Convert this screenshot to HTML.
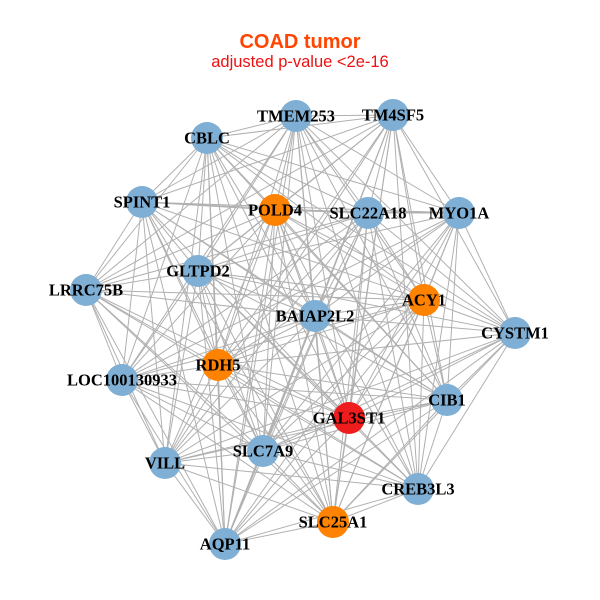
<!DOCTYPE html>
<html><head><meta charset="utf-8"><style>
html,body{margin:0;padding:0;background:#fff;}
svg{display:block}
.l{font-family:"Liberation Serif",serif;font-weight:bold;font-size:16.5px;fill:#000;text-anchor:middle;dominant-baseline:central}
</style></head><body>
<svg id="s" width="600" height="600" viewBox="0 0 600 600">
<text x="300" y="48" text-anchor="middle" font-family="Liberation Sans,sans-serif" font-weight="bold" font-size="20" fill="#FF4500">COAD tumor</text>
<text x="300" y="67" text-anchor="middle" font-family="Liberation Sans,sans-serif" font-size="16.5" fill="#EE1111">adjusted p-value &lt;2e-16</text>
<g id="e" stroke="#b0b0b0" stroke-width="1"></g>
<g id="n"></g>
</svg>
<script>
var N=[["TMEM253",296,116,"b"],["TM4SF5",393,115,"b"],["CBLC",207,138,"b"],["SPINT1",142,202,"b"],["POLD4",275,210,"o"],["SLC22A18",368,213,"b"],["MYO1A",459,213,"b"],["GLTPD2",198,271,"b"],["LRRC75B",86,290,"b"],["ACY1",424,300,"o"],["BAIAP2L2",315,316,"b"],["CYSTM1",515,333,"b"],["RDH5",218,365,"o"],["LOC100130933",122,380,"b"],["CIB1",447,400,"b"],["GAL3ST1",349,418,"r"],["SLC7A9",263,451,"b"],["VILL",165,463,"b"],["CREB3L3",418,489,"b"],["SLC25A1",333,522,"o"],["AQP11",225,544,"b"]];
var C={b:"#7FAFD4",o:"#FF8200",r:"#EE1C1C"};
var ns="http://www.w3.org/2000/svg",e=document.getElementById("e"),g=document.getElementById("n");
var skip={"8-11":1,"3-11":1,"13-11":1,"8-6":1,"17-6":1,"0-17":1,"2-18":1,"1-13":1,"8-14":1,"3-18":1};
for(var i=0;i<N.length;i++)for(var j=i+1;j<N.length;j++){if(skip[i+"-"+j]||skip[j+"-"+i])continue;var l=document.createElementNS(ns,"line");l.setAttribute("x1",N[i][1]);l.setAttribute("y1",N[i][2]);l.setAttribute("x2",N[j][1]);l.setAttribute("y2",N[j][2]);e.appendChild(l);}
N.forEach(function(d){var c=document.createElementNS(ns,"circle");c.setAttribute("cx",d[1]);c.setAttribute("cy",d[2]);c.setAttribute("r",16);c.setAttribute("fill",C[d[3]]);g.appendChild(c);});
N.forEach(function(d){var t=document.createElementNS(ns,"text");t.setAttribute("x",d[1]);t.setAttribute("y",d[2]);t.setAttribute("class","l");t.textContent=d[0];g.appendChild(t);});
</script>
</body></html>
